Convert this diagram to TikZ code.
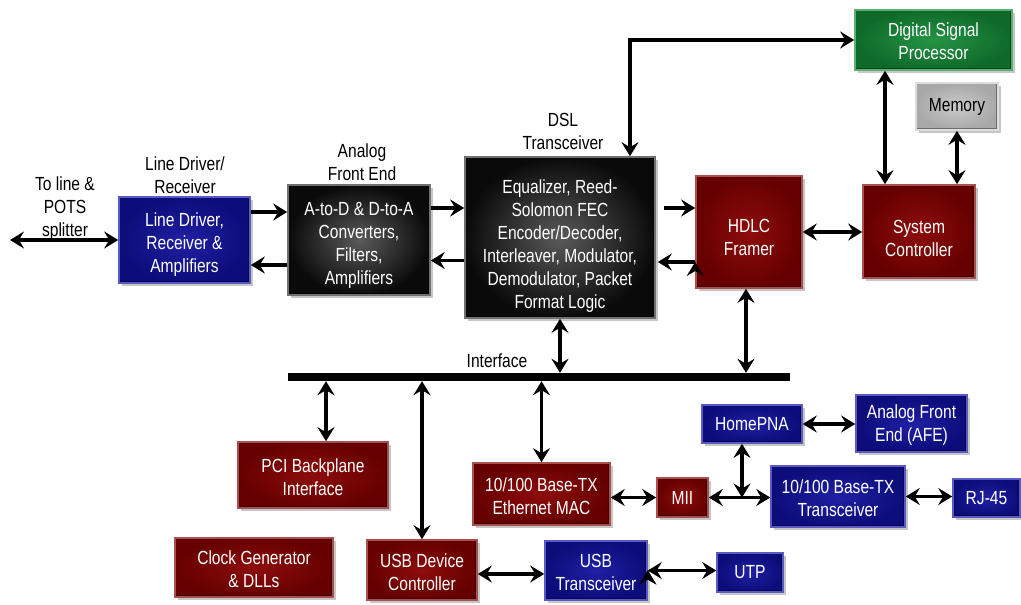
\documentclass[tikz,border=0pt]{standalone}
\usepackage{fontspec}
\setmainfont{Liberation Sans}[FakeStretch=0.82]
\usepackage{tikz}
\usetikzlibrary{arrows.meta}
\usetikzlibrary{shadows}
\definecolor{boxred}{HTML}{660000}
\definecolor{boxredin}{HTML}{8E0C0C}
\definecolor{boxredhi}{HTML}{A85050}
\definecolor{boxblue}{HTML}{0C0C7A}
\definecolor{boxbluein}{HTML}{2020A4}
\definecolor{boxbluehi}{HTML}{5A5AC0}
\definecolor{boxblack}{HTML}{0A0A0A}
\definecolor{boxblackin}{HTML}{5A5A5A}
\definecolor{boxblackhi}{HTML}{707070}
\definecolor{boxgreen}{HTML}{0F6A2A}
\definecolor{boxgreenin}{HTML}{249444}
\definecolor{boxgreenhi}{HTML}{5AB070}
\definecolor{boxgray}{HTML}{A8A8A8}
\definecolor{boxgrayin}{HTML}{CACACA}
\definecolor{boxgrayhi}{HTML}{DDDDDD}
\newcommand{\lift}[1]{\rule{0pt}{#1pt}}
\tikzset{
  every node/.style={font=\fontsize{19}{23}\selectfont, align=center},
  >={Stealth[length=14pt,width=17pt,inset=5pt]},
  wh/.style 2 args={minimum width=#1pt, minimum height=#2pt},
  box/.style={rectangle, inner sep=0pt, text=white, line width=1.6pt,
    drop shadow={shadow xshift=3pt, shadow yshift=-3pt, opacity=.45},
    path picture={\draw[black, opacity=.35, line width=4pt]
      (path picture bounding box.south west) -- (path picture bounding box.south east)
      -- (path picture bounding box.north east);}},
  redbox/.style={box, draw=boxredhi, inner color=boxredin, outer color=boxred},
  bluebox/.style={box, draw=boxbluehi, inner color=boxbluein, outer color=boxblue},
  blackbox/.style={box, draw=boxblackhi, inner color=boxblackin, outer color=boxblack},
  greenbox/.style={box, draw=boxgreenhi, inner color=boxgreenin, outer color=boxgreen},
  graybox/.style={box, text=black, draw=boxgrayhi, inner color=boxgrayin, outer color=boxgray},
  busbar/.style={fill=black, inner sep=0pt},
  link/.style={line width=3.6pt, <->},
  feed/.style={line width=3.6pt, ->}
}

\begin{document}
\begin{tikzpicture}[x=1pt,y=-1pt]
\useasboundingbox (0,0) rectangle (1021,605);
\node[bluebox, wh={131}{86}] (ldrv) at (184.5,240) {\lift{22}Line Driver,\\Receiver \&\\Amplifiers};
\node[blackbox, wh={142}{110}] (afe) at (359,240) {\lift{23}A-to-D \& D-to-A\\Converters,\\Filters,\\Amplifiers};
\node[blackbox, wh={190}{161}] (dsl) at (560,237.5) {\lift{30}Equalizer, Reed-\\Solomon FEC\\Encoder/Decoder,\\Interleaver, Modulator,\\Demodulator, Packet\\Format Logic};
\node[redbox, wh={106}{112}] (hdlc) at (749,232) {\lift{24}HDLC\\Framer};
\node[redbox, wh={112}{93}] (sysc) at (919,231.5) {\lift{27}System\\Controller};
\node[greenbox, wh={157}{60}] (dsp) at (933.5,40) {\lift{16}Digital Signal\\Processor};
\node[graybox, wh={82}{47}] (mem) at (957,106.5) {Memory};
\node[busbar, wh={502}{8}] (bus) at (539,377) {};
\node[redbox, wh={150}{66}] (pci) at (313,475) {\lift{18}PCI Backplane\\Interface};
\node[redbox, wh={137}{62}] (mac) at (541.5,494) {\lift{18}10/100 Base-TX\\Ethernet MAC};
\node[redbox, wh={110}{60}] (usbc) at (422,570) {\lift{18}USB Device\\Controller};
\node[redbox, wh={158}{59}] (clk) at (254,567.5) {\lift{18}Clock Generator\\\& DLLs};
\node[bluebox, wh={102}{59}] (usbt) at (596,570.5) {\lift{18}USB\\Transceiver};
\node[bluebox, wh={66}{39}] (utp) at (750,572.5) {UTP};
\node[redbox, wh={51}{39}] (mii) at (682.5,497.5) {MII};
\node[bluebox, wh={100}{38}] (hpna) at (752,424) {HomePNA};
\node[bluebox, wh={111}{57}] (hafe) at (911.5,423.5) {\lift{16}Analog Front\\End (AFE)};
\node[bluebox, wh={134}{61}] (btx) at (838,496.5) {\lift{18}10/100 Base-TX\\Transceiver};
\node[bluebox, wh={67}{38}] (rj) at (986.5,498) {RJ-45};
\node (potslbl) at (65,209) {To line \&\\POTS\\splitter};
\node (ldrvlbl) at (185,175) {Line Driver/\\Receiver};
\node (afelbl) at (362,162) {Analog\\Front End};
\node (dsllbl) at (563,131) {DSL\\Transceiver};
\node (buslbl) at (497,361) {Interface};
\coordinate (pots) at (10,240);
\draw[feed]
([yshift=28pt]ldrv.east) edge ([yshift=28pt]ldrv.east -| afe.west)
([yshift=-25pt]afe.west) edge ([yshift=-25pt]afe.west -| ldrv.east)
([yshift=32pt]afe.east) edge ([yshift=32pt]afe.east -| dsl.west)
([yshift=-23pt]dsl.west) edge ([yshift=-23pt]dsl.west -| afe.east)
([yshift=29.5pt]dsl.east) edge[shorten <=8pt] ([yshift=29.5pt]dsl.east -| hdlc.west)
([yshift=-30pt]hdlc.west) edge[shorten >=2pt] ([yshift=-30pt]hdlc.west -| dsl.east);
\draw[link] ([xshift=70pt]dsl.north) |- (dsp.west);
\draw[link]
(pots) edge (ldrv.west)
(dsl.south) edge (dsl.south |- bus.north)
([xshift=-3pt]hdlc.south) edge ([xshift=-3pt]hdlc.south |- bus.north)
([xshift=13pt]pci.north) edge ([xshift=13pt]pci.north |- bus.south)
(mac.north) edge (mac.north |- bus.south)
(usbc.north) edge (usbc.north |- bus.south)
([xshift=-34pt]sysc.north) edge ([xshift=-34pt]sysc.north |- dsp.south)
(mem.south) edge (mem.south |- sysc.north)
(hdlc.east) edge (hdlc.east -| sysc.west)
(mii.west) edge (mii.west -| mac.east)
(mii.east) edge (mii.east -| btx.west)
([xshift=-10pt]hpna.south) edge ([xshift=-10pt]hpna.south |- mii.east)
(hpna.east) edge (hpna.east -| hafe.west)
(btx.east) edge (btx.east -| rj.west)
([yshift=-4pt]usbc.east) edge ([yshift=-4pt]usbc.east -| usbt.west)
(usbt.east) edge (usbt.east -| utp.west);
\end{tikzpicture}
\end{document}
